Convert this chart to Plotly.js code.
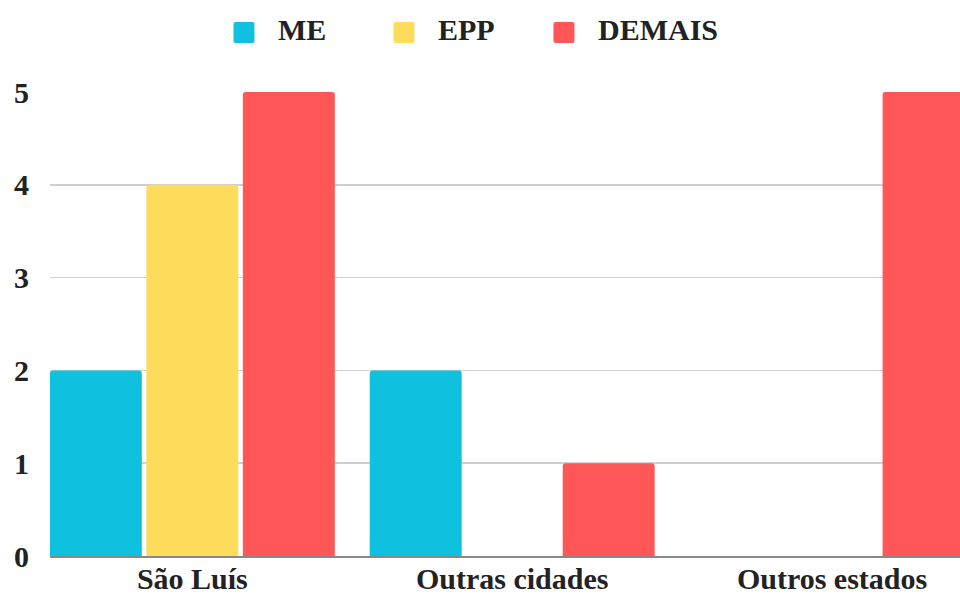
<!DOCTYPE html>
<html>
<head>
<meta charset="utf-8">
<script src="https://cdn.plot.ly/plotly-3.0.1.min.js"></script>
<style>
  html, body { margin: 0; padding: 0; background: #fff; }
  #chart { width: 960px; height: 594px; }
  /* bigger, nearly square legend swatches, as in the reference */
  .legendpoints path {
    d: path('M-8.5,-10.5H8.5A2,2 0 0 1 10.5,-8.5V8.5A2,2 0 0 1 8.5,10.5H-8.5A2,2 0 0 1 -10.5,8.5V-8.5A2,2 0 0 1 -8.5,-10.5Z');
    transform: translate(6px, 4px);
  }
  .legend .scrollbox { clip-path: none !important; }
</style>
</head>
<body>
<div id="chart"></div>
<script>
    // data
    const categories = ['São Luís', 'Outras cidades', 'Outros estados'];
    const meValues = [2, 2, 0];
    const eppValues = [4, 0, 0];
    const demaisValues = [5, 1, 5];
    const yTicks = [0, 1, 2, 3, 4, 5];

    const series = [
        { name: 'ME', values: meValues, color: '#0FC1DF' },
        { name: 'EPP', values: eppValues, color: '#FDDC5C' },
        { name: 'DEMAIS', values: demaisValues, color: '#FF5757' }
    ];

    const font = { family: '"Liberation Serif", "DejaVu Serif", serif', size: 30, color: '#222', weight: 'bold' };

    const traces = series.map(s => ({
        type: 'bar',
        name: s.name,
        x: categories,
        y: s.values,
        marker: { color: s.color, line: { width: 0 } },
        hoverinfo: 'x+y+name'
    }));

    const layout = {
        width: 960,
        height: 594,
        margin: { l: 50, r: 0, t: 92, b: 38 },
        paper_bgcolor: '#fff',
        plot_bgcolor: '#fff',
        font: font,
        barmode: 'group',
        bargap: 0.095,
        bargroupgap: 0.047,
        barcornerradius: 3,
        showlegend: true,
        legend: {
            orientation: 'h',
            x: 0.4703,
            xanchor: 'center',
            y: 0.996,
            yanchor: 'top',
            yref: 'container',
            entrywidthmode: 'pixels',
            entrywidth: 115,
            font: font,
            bgcolor: 'rgba(0,0,0,0)'
        },
        xaxis: {
            type: 'category',
            range: [-0.445, 2.4],
            showgrid: false,
            showline: true,
            linecolor: '#888',
            linewidth: 1.5,
            ticks: '',
            tickfont: font,
            ticklabelstandoff: -5,
            fixedrange: true
        },
        yaxis: {
            range: [0, 5],
            tickvals: yTicks,
            ticktext: yTicks.map(String),
            showgrid: true,
            gridcolor: '#cfcfcf',
            gridwidth: 1.5,
            zeroline: false,
            showline: false,
            ticks: '',
            tickfont: font,
            ticklabelstandoff: 20,
            fixedrange: true
        }
    };

    Plotly.newPlot('chart', traces, layout, { displayModeBar: false, staticPlot: true });
</script>
</body>
</html>
